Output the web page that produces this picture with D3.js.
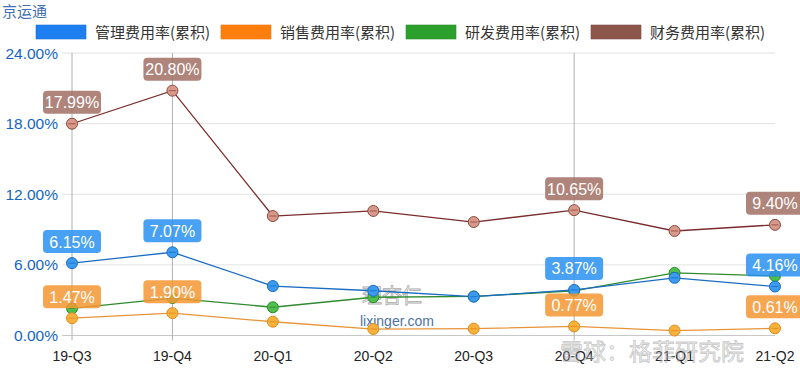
<!DOCTYPE html>
<html><head><meta charset="utf-8">
<script src="https://cdn.jsdelivr.net/npm/d3@7"></script>
<style>body{margin:0;background:#fff}svg{display:block;font-family:"Noto Sans CJK SC","Noto Sans",sans-serif}</style>
</head><body><svg id="c" width="800" height="375"></svg>
<script>
const categories = ["19-Q3","19-Q4","20-Q1","20-Q2","20-Q3","20-Q4","21-Q1","21-Q2"];
const seriesNames = ["管理费用率(累积)","销售费用率(累积)","研发费用率(累积)","财务费用率(累积)"];
const mgmt = [6.15,7.07,4.20,3.80,3.30,3.87,4.90,4.16];
const sales = [1.47,1.90,1.17,0.55,0.58,0.77,0.42,0.61];
const rnd = [2.30,3.18,2.40,3.25,3.32,3.80,5.32,5.06];
const fin = [17.99,20.80,10.15,10.58,9.64,10.65,8.88,9.40];
const yTicks = [0,6,12,18,24];
const labelIdx = [0,1,5,7];
const vLineIdx = [0,1,5];

const svg = d3.select("#c");
const x = d3.scalePoint().domain(categories).range([72,775]);
const y = d3.scaleLinear().domain([0,24]).range([335.5,53]);

svg.append("text").attr("x",2).attr("y",17).attr("font-size",15).attr("fill","#3f6fb5").text("京运通");

svg.append("g").selectAll("line").data(yTicks).join("line")
 .attr("x1",62).attr("x2",775).attr("y1",d=>y(d)).attr("y2",d=>y(d))
 .attr("stroke",d=>d===0?"#c8c8c8":"#e2e2e2").attr("stroke-width",1);
svg.append("g").selectAll("line").data(vLineIdx).join("line")
 .attr("x1",i=>x(categories[i])).attr("x2",i=>x(categories[i]))
 .attr("y1",y(24)).attr("y2",y(0)+5).attr("stroke","#b0b0b0");

svg.append("g").selectAll("text").data(yTicks).join("text")
 .attr("x",58).attr("y",d=>y(d)+5.5).attr("text-anchor","end").attr("font-size",15.5)
 .attr("font-family","Liberation Sans, Arial, sans-serif")
 .attr("fill","#1565c0").text(d=>d3.format(".2f")(d)+"%");
svg.append("g").selectAll("text").data(categories).join("text")
 .attr("x",d=>x(d)).attr("y",361).attr("text-anchor","middle").attr("font-size",14)
 .attr("font-family","Liberation Sans, Arial, sans-serif")
 .attr("fill","#222").text(d=>d);

const legColors = ["#1e7ff0","#ff7f0e","#2ca02c","#8c564b"];
const legX = [36,221,406,591];
const lg = svg.append("g");
seriesNames.forEach((n,i)=>{
  lg.append("rect").attr("x",legX[i]).attr("y",25).attr("width",50).attr("height",14).attr("fill",legColors[i]).attr("stroke",d3.color(legColors[i]).darker(0.3)).attr("stroke-width",0.6);
  lg.append("text").attr("x",legX[i]+59).attr("y",38).attr("font-size",15).attr("fill","#333").text(n);
});

svg.append("text").attr("x",360).attr("y",326).attr("font-size",14).attr("fill","#2d5a95").attr("opacity",0.85)
 .attr("font-family","Liberation Sans, Arial, sans-serif").text("lixinger.com");
svg.append("text").attr("x",362).attr("y",303).attr("font-size",20).attr("fill","none").attr("stroke","#888").attr("stroke-width",0.8).attr("opacity",0.7).text("理杏仁");

const series = [
 {v:fin, line:"#7a2b2b", fill:"#d8998b", stroke:"#8a4a3e", lab:"rgba(160,110,100,0.85)"},
 {v:rnd, line:"#2e8b2e", fill:"#4cbf4c", stroke:"#2e8b2e", lab:null},
 {v:sales, line:"#e8943a", fill:"#f7b23c", stroke:"#e08a20", lab:"rgba(245,150,50,0.85)"},
 {v:mgmt, line:"#1a6cc0", fill:"#3a9bf0", stroke:"#1a6cc0", lab:"rgba(40,145,240,0.85)"}
];
const line = d3.line().x((d,i)=>x(categories[i])).y(d=>y(d));
series.forEach(s=>{
  svg.append("path").datum(s.v).attr("d",line).attr("fill","none").attr("stroke",s.line).attr("stroke-width",1.3);
});
series.forEach(s=>{
  const g = svg.append("g");
  s.v.forEach((d,i)=>{
    const cx=x(categories[i]), cy=y(d);
    g.append("circle").attr("cx",cx).attr("cy",cy).attr("r",5.5).attr("fill",s.fill).attr("stroke",s.stroke).attr("stroke-width",1);
    g.append("line").attr("x1",cx-3.5).attr("x2",cx+3.5).attr("y1",cy).attr("y2",cy).attr("stroke",s.stroke).attr("stroke-width",1).attr("opacity",0.8);
  });
});
svg.append("text").attr("x",560).attr("y",360).attr("font-size",23).attr("fill","rgba(210,210,210,0.3)").attr("stroke","rgba(150,150,150,0.5)").attr("stroke-width",0.8).text("雪球：格菲研究院");

series.forEach(s=>{
  if(!s.lab) return;
  const g = svg.append("g");
  labelIdx.forEach(i=>{
    const cx=x(categories[i]), cy=y(s.v[i]);
    const w=58,h=23;
    g.append("rect").attr("x",cx-w/2).attr("y",cy-10-h).attr("width",w).attr("height",h).attr("rx",4).attr("fill",s.lab);
    g.append("text").attr("x",cx).attr("y",cy-10-h/2+6).attr("text-anchor","middle").attr("font-size",16)
      .attr("font-family","Liberation Sans, Arial, sans-serif").attr("fill","#fff").text(d3.format(".2f")(s.v[i])+"%");
  });
});
</script></body></html>
